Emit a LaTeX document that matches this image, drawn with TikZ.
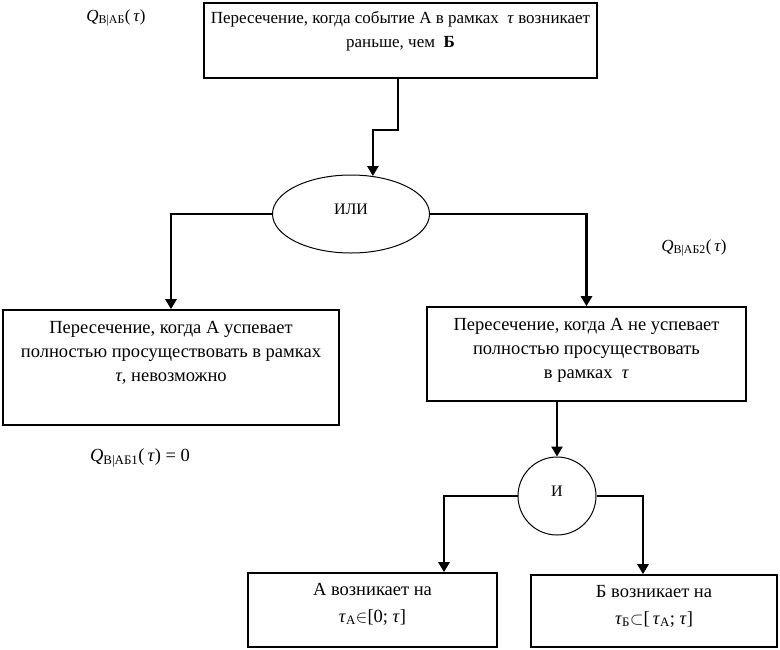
\documentclass[tikz,border=0pt]{standalone}
\usepackage{fontspec}
\setmainfont{Liberation Serif}
\usetikzlibrary{arrows.meta}
\usetikzlibrary{shapes.geometric,positioning}

\newcommand{\ttau}{\textit{τ}}
\newcommand{\qlab}[1]{\textit{Q}\textsubscript{#1}(\,\ttau)}
% width, height, first baseline, text
\newcommand{\boxtext}[4]{\parbox[c][#2][t]{#1}{\centering\rule{0pt}{#3}#4}}

\begin{document}
\begin{tikzpicture}[x=1pt, y=-1pt,
    every node/.style={font=\fontsize{18.5}{24}\selectfont},
    box/.style={draw, line width=1.6pt, inner sep=0pt},
    gate/.style={draw, line width=1pt, inner sep=0pt, font=\fontsize{16}{20}\selectfont},
    conn/.style={line width=2.6pt, -{Triangle[width=11pt,length=10pt]}}]

    \useasboundingbox (0,0) rectangle (780,649);

    \node[box, font=\fontsize{17}{24}\selectfont] (top) at (400.5,40.5) {\boxtext{393pt}{75pt}{20pt}{Пересечение, когда событие А в рамках \ \ttau{} возникает\\ раньше, чем \ \textbf{Б}}};
    \node[font=\fontsize{17}{20}\selectfont] (qtop) at (116,18) {\qlab{В|АБ}};

    \node[gate, ellipse, minimum width=157pt, minimum height=78pt] (or) at (351,214) {\raisebox{10pt}{ИЛИ}};

    \node[box] (lft) at (171,367.5) {\boxtext{336pt}{115pt}{23pt}{Пересечение, когда А успевает\\ полностью просуществовать в рамках\\ \ttau, невозможно}};
    \node (qlft) at (140,458) {\qlab{В|АБ1} = 0};

    \node[box] (rgt) at (586.5,354) {\boxtext{319pt}{94pt}{23pt}{Пересечение, когда А не успевает\\ полностью просуществовать\\ в рамках \ \ttau}};
    \node[font=\fontsize{17}{20}\selectfont] (qrgt) at (694,248) {\qlab{В|АБ2}};

    \node[gate, circle, minimum size=78pt] (and) at (557,496) {\raisebox{9pt}{И}};

    \node[box] (bl) at (372.5,610) {\boxtext{249pt}{74pt}{22pt}{А возникает на\\[3pt] \ttau\textsubscript{А}$\in$[0; \ttau]}};
    \node[box] (br) at (654,611) {\boxtext{246pt}{72pt}{22pt}{Б возникает на\\[3pt] \ttau\textsubscript{Б}$\subset$[\,\ttau\textsubscript{А}; \ttau]}};

    \draw[conn] ([xshift=-2.5pt]top.south) -- ++(0,51) -| (or.60);
    \draw[conn] (or.west) -| (lft.north);
    \draw[conn] (or.east) -| (rgt.north);
    \draw[conn] (rgt.south -| and.north) -- (and.north);
    \draw[conn] (and.west) -| ([xshift=71.5pt]bl.north);
    \draw[conn] (and.east) -| ([xshift=-11pt]br.north);

\end{tikzpicture}
\end{document}
